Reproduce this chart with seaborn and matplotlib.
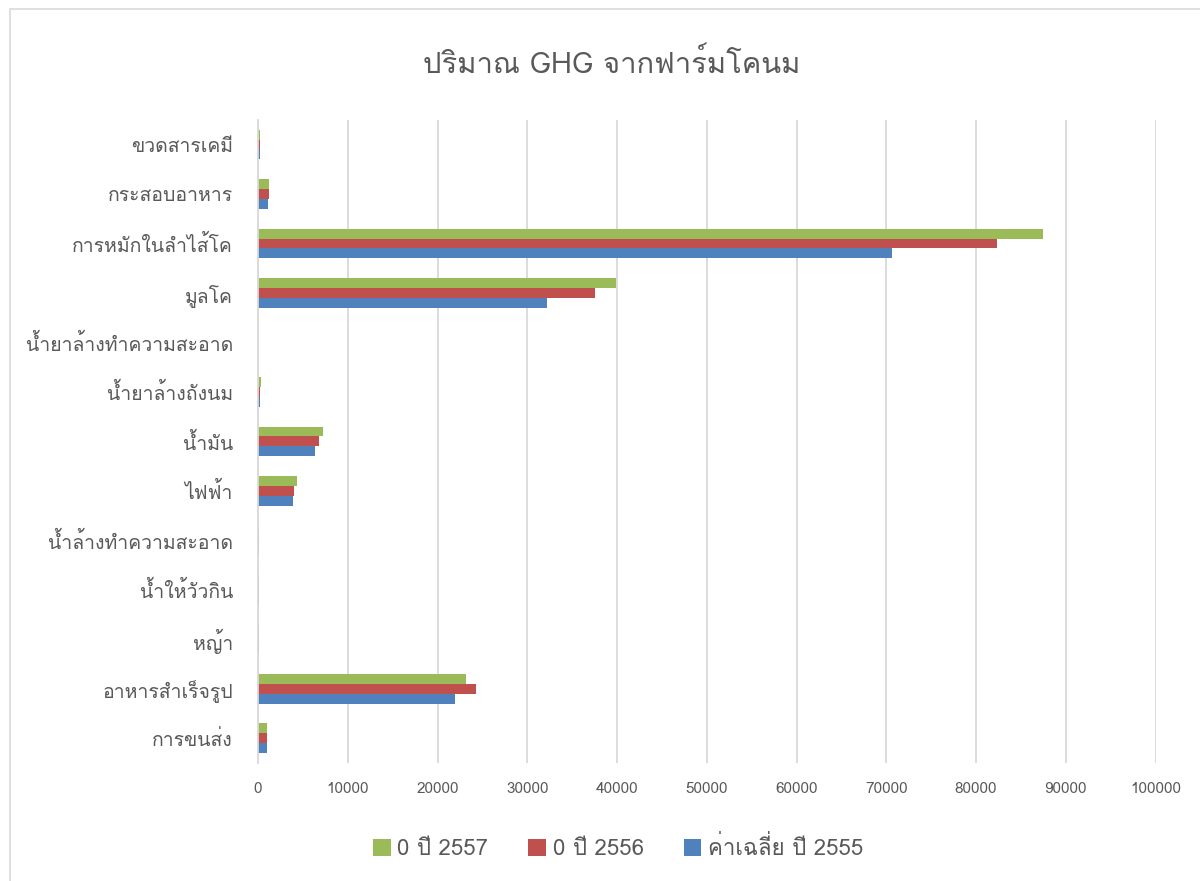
import matplotlib
matplotlib.use("Agg")
import matplotlib.pyplot as plt
import seaborn as sns
import pandas as pd
from matplotlib import font_manager
from matplotlib.ft2font import FT2Font
from matplotlib.patches import Rectangle

categories = ["ขวดสารเคมี", "กระสอบอาหาร", "การหมักในลำไส้โค", "มูลโค",
              "น้ำยาล้างทำความสะอาด", "น้ำยาล้างถังนม", "น้ำมัน", "ไฟฟ้า",
              "น้ำล้างทำความสะอาด", "น้ำให้วัวกิน", "หญ้า", "อาหารสำเร็จรูป", "การขนส่ง"]
series = ["0 ปี 2557", "0 ปี 2556", "ค่าเฉลี่ย ปี 2555"]
y2557 = [250, 1250, 87400, 39900, 0, 300, 7200, 4400, 100, 150, 80, 23200, 1000]
y2556 = [230, 1200, 82300, 37500, 0, 250, 6800, 4000, 100, 150, 80, 24300, 1000]
y2555 = [220, 1100, 70600, 32200, 0, 200, 6300, 3900, 100, 150, 80, 21900, 950]
colors = ["#9BBB59", "#C0504D", "#4F81BD"]
x_ticks = list(range(0, 100001, 10000))


def thai_font():
    # หาฟอนต์ที่มีตัวอักษรไทย
    for f in font_manager.fontManager.ttflist:
        try:
            if FT2Font(f.fname).get_char_index(ord("ก")):
                return f.name
        except Exception:
            pass
    return "DejaVu Sans"


df = pd.DataFrame({
    "category": categories * 3,
    "series": [series[0]] * 13 + [series[1]] * 13 + [series[2]] * 13,
    "value": y2557 + y2556 + y2555,
})

sns.set_style("white")
plt.rcParams["font.family"] = [thai_font(), "DejaVu Sans"]

fig = plt.figure(figsize=(12, 8.81), dpi=100)
ax = fig.add_axes([0.215, 0.134, 0.748, 0.730])

sns.barplot(data=df, y="category", x="value", hue="series", hue_order=series,
            palette=colors, saturation=1, orient="h", width=0.6, linewidth=0,
            ax=ax, legend=True)

ax.set_xlim(0, 100000)
ax.set_xticks(x_ticks)
ax.set_xticklabels([str(t) for t in x_ticks])
ax.set_xlabel("")
ax.set_ylabel("")
ax.grid(axis="x", color="#d9d9d9", linewidth=1.3)
ax.set_axisbelow(True)
for s in ["top", "right", "bottom"]:
    ax.spines[s].set_visible(False)
ax.spines["left"].set_color("#d9d9d9")
ax.spines["left"].set_linewidth(1.3)
ax.tick_params(axis="x", length=0, pad=14, labelsize=11, labelcolor="#595959")
ax.tick_params(axis="y", length=0, pad=18, labelsize=14, labelcolor="#595959")

handles, labels = ax.get_legend_handles_labels()
ax.get_legend().remove()
fig.legend(handles, labels, loc="center", bbox_to_anchor=(0.515, 0.037), ncol=3,
           frameon=False, fontsize=16, labelcolor="#595959", handlelength=0.8,
           handleheight=0.8, handletextpad=0.3, columnspacing=1.8)

fig.suptitle("ปริมาณ GHG จากฟาร์มโคนม", x=0.51, y=0.945, fontsize=21, color="#595959")

fig.patches.append(Rectangle((0.008, -0.01), 1.0, 1.0, transform=fig.transFigure,
                             fill=False, edgecolor="#d9d9d9", linewidth=1.2))

plt.savefig("out.png", dpi=100)
plt.close()
